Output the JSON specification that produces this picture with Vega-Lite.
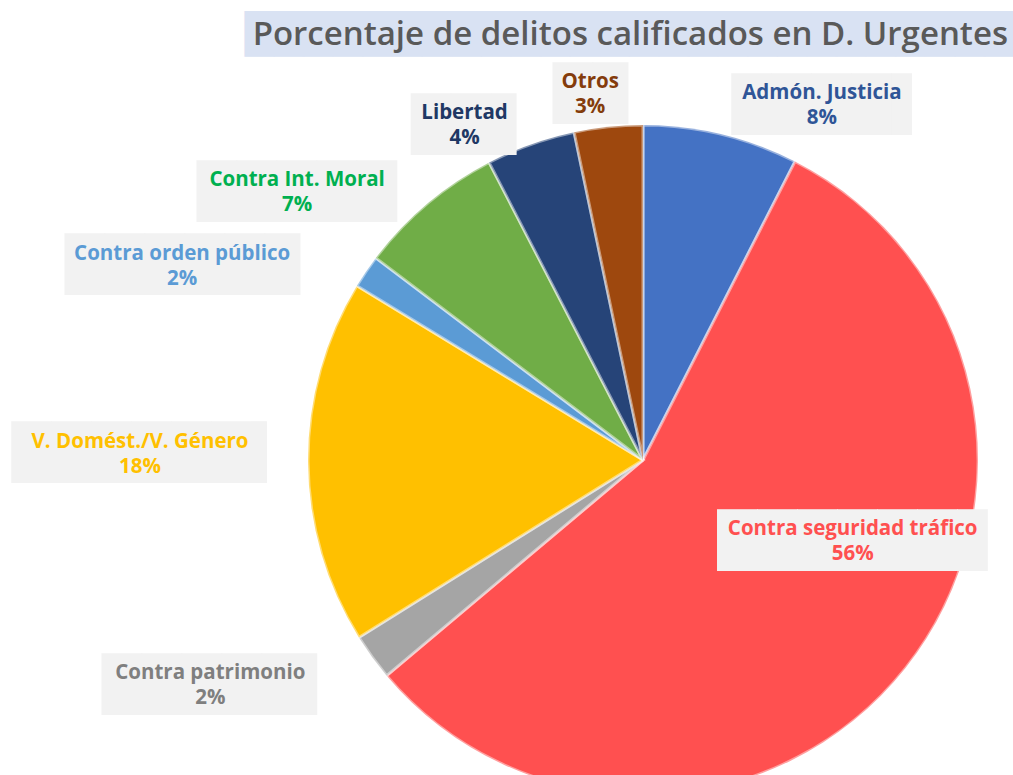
{
  "$schema": "https://vega.github.io/schema/vega-lite/v6.json",
  "width": 740,
  "height": 630,
  "autosize": {"type": "none"},
  "padding": {"left": 273, "top": 145, "right": 0, "bottom": 0},
  "background": "white",
  "title": {"text": "Porcentaje de delitos calificados en D. Urgentes", "anchor": "end", "frame": "group", "font": "Open Sans", "fontSize": 33, "fontWeight": 600, "color": "#595959", "offset": -119, "dx": -5},
  "config": {"view": {"stroke": null}},
  "data": {"values": [
    {"cat": "Admón. Justicia", "pct": 7.5, "o": 1, "label": ["Admón. Justicia", "8%"]},
    {"cat": "Contra seguridad tráfico", "pct": 56.4, "o": 2, "label": ["Contra seguridad tráfico", "56%"]},
    {"cat": "Contra patrimonio", "pct": 2.25, "o": 3, "label": ["Contra patrimonio", "2%"]},
    {"cat": "V.  Domést./V. Género", "pct": 17.6, "o": 4, "label": ["V.  Domést./V. Género", "18%"]},
    {"cat": "Contra orden público", "pct": 1.6, "o": 5, "label": ["Contra orden público", "2%"]},
    {"cat": "Contra Int. Moral", "pct": 7.1, "o": 6, "label": ["Contra Int. Moral", "7%"]},
    {"cat": "Libertad", "pct": 4.3, "o": 7, "label": ["Libertad", "4%"]},
    {"cat": "Otros", "pct": 3.3, "o": 8, "label": ["Otros", "3%"]}
  ]},
  "encoding": {
    "theta": {"field": "pct", "type": "quantitative", "stack": true},
    "order": {"field": "o", "type": "quantitative"}
  },
  "layer": [
    {"mark": {"type": "arc", "radius": 335, "stroke": "#ffffff", "strokeOpacity": 0.45, "strokeWidth": 3},
     "encoding": {"color": {"field": "cat", "type": "nominal", "legend": null,
       "scale": {"domain": ["Admón. Justicia", "Contra seguridad tráfico", "Contra patrimonio", "V.  Domést./V. Género", "Contra orden público", "Contra Int. Moral", "Libertad", "Otros"],
                 "range": ["#4472C4", "#FF5050", "#A5A5A5", "#FFC000", "#5B9BD5", "#70AD47", "#264478", "#9E480E"]}}}},

    {"mark": {"type": "text", "radius": 425, "thetaOffset": 0.072, "font": "DejaVu Sans", "fontSize": 38.5, "color": "#D9E2F3", "align": "center", "baseline": "middle"},
     "encoding": {"text": {"condition": {"test": "datum.o === 8", "value": "██████████████████████████"}, "value": ""}}},

    {"mark": {"type": "text", "radius": 397, "thetaOffset": 0.232, "dx": 10, "font": "DejaVu Sans", "fontSize": 52, "color": "#F2F2F2", "align": "center", "baseline": "middle"},
     "encoding": {"text": {"condition": {"test": "datum.o === 1", "value": "████▌"}, "value": ""}}},
    {"mark": {"type": "text", "radius": 225, "thetaOffset": -0.300, "dx": 5, "font": "DejaVu Sans", "fontSize": 52, "color": "#F2F2F2", "align": "center", "baseline": "middle"},
     "encoding": {"text": {"condition": {"test": "datum.o === 2", "value": "██████▊"}, "value": ""}}},
    {"mark": {"type": "text", "radius": 488, "thetaOffset": 0.148, "dx": 12, "font": "DejaVu Sans", "fontSize": 52, "color": "#F2F2F2", "align": "center", "baseline": "middle"},
     "encoding": {"text": {"condition": {"test": "datum.o === 3", "value": "█████▍"}, "value": ""}}},
    {"mark": {"type": "text", "radius": 503, "thetaOffset": 0.017, "dx": 12, "font": "DejaVu Sans", "fontSize": 52, "color": "#F2F2F2", "align": "center", "baseline": "middle"},
     "encoding": {"text": {"condition": {"test": "datum.o === 4", "value": "██████▍"}, "value": ""}}},
    {"mark": {"type": "text", "radius": 500, "thetaOffset": -0.199, "dx": 3, "font": "DejaVu Sans", "fontSize": 52, "color": "#F2F2F2", "align": "center", "baseline": "middle"},
     "encoding": {"text": {"condition": {"test": "datum.o === 5", "value": "█████▉"}, "value": ""}}},
    {"mark": {"type": "text", "radius": 437, "thetaOffset": -0.213, "font": "DejaVu Sans", "fontSize": 52, "color": "#F2F2F2", "align": "center", "baseline": "middle"},
     "encoding": {"text": {"condition": {"test": "datum.o === 6", "value": "█████"}, "value": ""}}},
    {"mark": {"type": "text", "radius": 379, "thetaOffset": -0.148, "dx": 7, "font": "DejaVu Sans", "fontSize": 52, "color": "#F2F2F2", "align": "center", "baseline": "middle"},
     "encoding": {"text": {"condition": {"test": "datum.o === 7", "value": "██▋"}, "value": ""}}},
    {"mark": {"type": "text", "radius": 369, "thetaOffset": -0.040, "dx": 3, "font": "DejaVu Sans", "fontSize": 52, "color": "#F2F2F2", "align": "center", "baseline": "middle"},
     "encoding": {"text": {"condition": {"test": "datum.o === 8", "value": "█▉"}, "value": ""}}},

    {"mark": {"type": "text", "radius": 397, "thetaOffset": 0.232, "dy": -12.5, "font": "Open Sans", "fontSize": 20.5, "fontWeight": "bold", "lineHeight": 25, "color": "#2F5597", "align": "center", "baseline": "middle"},
     "encoding": {"text": {"condition": {"test": "datum.o === 1", "field": "label", "type": "nominal"}, "value": ""}}},
    {"mark": {"type": "text", "radius": 225, "thetaOffset": -0.300, "dy": -12.5, "font": "Open Sans", "fontSize": 20.5, "fontWeight": "bold", "lineHeight": 25, "color": "#FF5050", "align": "center", "baseline": "middle"},
     "encoding": {"text": {"condition": {"test": "datum.o === 2", "field": "label", "type": "nominal"}, "value": ""}}},
    {"mark": {"type": "text", "radius": 488, "thetaOffset": 0.148, "dy": -12.5, "font": "Open Sans", "fontSize": 20.5, "fontWeight": "bold", "lineHeight": 25, "color": "#7F7F7F", "align": "center", "baseline": "middle"},
     "encoding": {"text": {"condition": {"test": "datum.o === 3", "field": "label", "type": "nominal"}, "value": ""}}},
    {"mark": {"type": "text", "radius": 503, "thetaOffset": 0.017, "dy": -12.5, "font": "Open Sans", "fontSize": 20.5, "fontWeight": "bold", "lineHeight": 25, "color": "#FFC000", "align": "center", "baseline": "middle"},
     "encoding": {"text": {"condition": {"test": "datum.o === 4", "field": "label", "type": "nominal"}, "value": ""}}},
    {"mark": {"type": "text", "radius": 500, "thetaOffset": -0.199, "dy": -12.5, "font": "Open Sans", "fontSize": 20.5, "fontWeight": "bold", "lineHeight": 25, "color": "#5B9BD5", "align": "center", "baseline": "middle"},
     "encoding": {"text": {"condition": {"test": "datum.o === 5", "field": "label", "type": "nominal"}, "value": ""}}},
    {"mark": {"type": "text", "radius": 437, "thetaOffset": -0.213, "dy": -12.5, "font": "Open Sans", "fontSize": 20.5, "fontWeight": "bold", "lineHeight": 25, "color": "#00B050", "align": "center", "baseline": "middle"},
     "encoding": {"text": {"condition": {"test": "datum.o === 6", "field": "label", "type": "nominal"}, "value": ""}}},
    {"mark": {"type": "text", "radius": 379, "thetaOffset": -0.148, "dy": -12.5, "font": "Open Sans", "fontSize": 20.5, "fontWeight": "bold", "lineHeight": 25, "color": "#203864", "align": "center", "baseline": "middle"},
     "encoding": {"text": {"condition": {"test": "datum.o === 7", "field": "label", "type": "nominal"}, "value": ""}}},
    {"mark": {"type": "text", "radius": 369, "thetaOffset": -0.040, "dy": -12.5, "font": "Open Sans", "fontSize": 20.5, "fontWeight": "bold", "lineHeight": 25, "color": "#843C0C", "align": "center", "baseline": "middle"},
     "encoding": {"text": {"condition": {"test": "datum.o === 8", "field": "label", "type": "nominal"}, "value": ""}}}
  ]
}
